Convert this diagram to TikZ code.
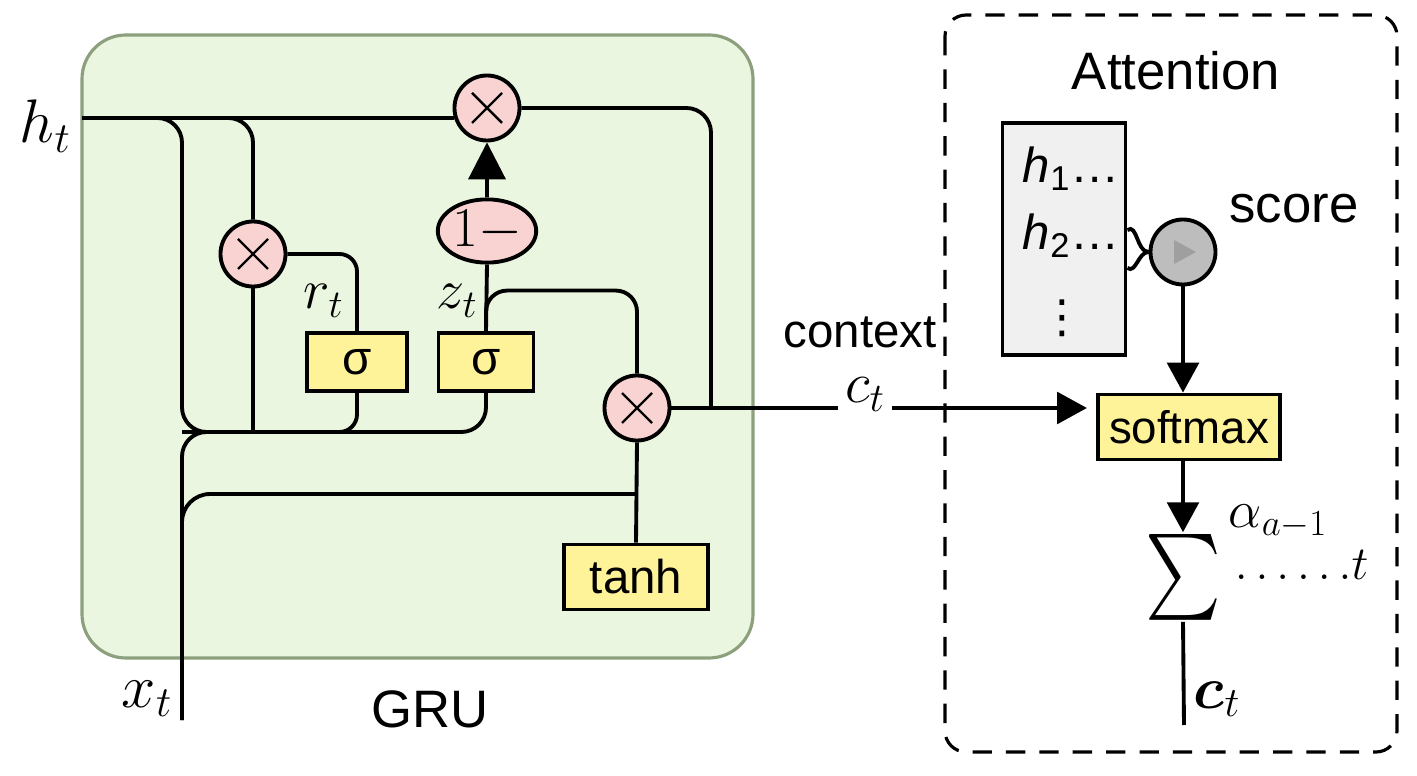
\RequirePackage{fix-cm}
\documentclass[tikz,border=0pt]{standalone}
\usepackage{amsmath,amssymb}
\usepackage{fontspec}
\setmainfont{Liberation Sans}
\newfontfamily\symfont{DejaVu Sans}
\usetikzlibrary{arrows.meta,positioning,calc,shapes}

\definecolor{grufill}{HTML}{EAF6E0}
\definecolor{gruline}{HTML}{8CA07E}
\definecolor{opfill}{HTML}{F9D3D1}
\definecolor{actfill}{HTML}{FFF39A}
\definecolor{memfill}{HTML}{F0F0F0}
\definecolor{scorefill}{HTML}{BDBDBD}

\newcommand{\fsz}[1]{\fontsize{#1}{#1}\selectfont}

\begin{document}
\begin{tikzpicture}[x=0.02cm,y=-0.02cm,line width=2.2pt,
  mult/.style={circle,draw,fill=opfill,minimum size=37pt,inner sep=0pt,
    path picture={\draw[line width=1.4pt]
      ($(path picture bounding box.center)+(-15,-15)$) -- ($(path picture bounding box.center)+(15,15)$)
      ($(path picture bounding box.center)+(-15,15)$) -- ($(path picture bounding box.center)+(15,-15)$);}},
  act/.style={draw,fill=actfill,minimum height=33pt,inner sep=0pt,font=\fsz{27}},
  lbl/.style={inner sep=0pt},
  arrowto/.style={-{Triangle[length=17pt,width=18pt]}},
  arrowbig/.style={-{Triangle[length=21pt,width=21pt]}}]
\useasboundingbox (0,0) rectangle (1417,776);

% GRU cell
\draw[line width=1.8pt,draw=gruline,fill=grufill,rounded corners=25pt] (82,35) rectangle (753,658);
\node[lbl,font=\fsz{30},anchor=base] (grulbl) at (430,727) {GRU};

% Attention block
\draw[line width=1.8pt,dash pattern=on 11pt off 8pt,rounded corners=12pt] (945,15) rectangle (1397,752);
\node[lbl,font=\fsz{30},anchor=base] (attlbl) at (1176,90) {Attention};

% gates
\node[mult] (topmul) at (487,108) {};
\node[mult] (rmul) at (253,254) {};
\node[mult] (lomul) at (637,408) {};
\node[ellipse,draw,fill=opfill,minimum width=56pt,minimum height=36pt,inner sep=0pt,font=\fsz{32}] (onem) at (487,231) {$1-$};
\node[act,minimum width=57pt] (sigr) at (357,362) {σ};
\node[act,minimum width=54pt] (sigz) at (486,362) {σ};
\node[act,minimum width=82pt,minimum height=37pt] (tanh) at (636,577) {tanh};

% inputs and gate labels
\node[lbl,font=\fsz{35},anchor=base west] (hlbl) at (18,143) {$h_t$};
\node[lbl,font=\fsz{35},anchor=base west] (xlbl) at (120,707) {$x_t$};
\node[lbl,font=\fsz{32},anchor=base west] (rlbl) at (302,309) {$r_t$};
\node[lbl,font=\fsz{32},anchor=base west] (zlbl) at (435,309) {$z_t$};
\coordinate (hin) at (82,118);
\coordinate (xin) at (182,720);
\coordinate (bus) at (182,432);
\coordinate (jc) at (711,408);

% GRU wiring
\draw (hin) -- (topmul.197);
\draw[rounded corners=14pt] (hin) -| (bus) -| (sigz.south);
\draw[rounded corners=14pt] (xin) |- (rmul.south |- bus);
\draw[rounded corners=16pt] (xin) |- (tanh.north |- 0,494);
\draw[rounded corners=14pt] (hin) -| (rmul.north);
\draw (rmul.south) -- (rmul.south |- bus);
\draw[rounded corners=10pt] (rmul.east) -| (sigr.north);
\draw[rounded corners=10pt] (sigr.south) |- (bus);
\draw (sigz.north) -- (onem.south);
\draw[arrowbig] (onem.north) -- (topmul.south);
\draw[rounded corners=12pt] (sigz.north) |- ($(lomul.north)+(0,-83)$) -- (lomul.north);
\draw[rounded corners=14pt] (topmul.east) -| (jc);
\draw (tanh.north) -- (lomul.south);

% context vector
\node[lbl,font=\fsz{27},anchor=base] (ctxt) at (860,348) {context};
\node[lbl,inner xsep=3pt,font=\fsz{33},anchor=base west] (ctm) at (838,403) {$c_t$};
\draw (lomul.east) -- (ctm.west |- lomul.east);

% memory and score
\node[draw,fill=memfill,minimum width=70pt,minimum height=132pt,inner sep=0pt] (mem) at (1064,239) {};
\node[lbl,font=\fsz{28},anchor=base west] (hone) at (1021,183) {\textit{h}\textsubscript{1}…};
\node[lbl,font=\fsz{28},anchor=base west] (htwo) at (1021,250) {\textit{h}\textsubscript{2}…};
\node[lbl,font=\symfont\fsz{26}] (hdots) at (1062,318) {⋮};
\node[circle,draw,fill=scorefill,minimum size=37pt,inner sep=0pt,
  path picture={\fill[gray!75] ($(path picture bounding box.center)+(-9,-12)$) -- ($(path picture bounding box.center)+(13,0)$)
    -- ($(path picture bounding box.center)+(-9,12)$) -- cycle;}] (score) at (1183,252) {};
\node[lbl,font=\fsz{30},anchor=base] (scorelbl) at (1294,223) {score};
\draw (mem.east |- 0,230) to[out=35,in=180] (score.west);
\draw (mem.east |- 0,268) to[out=-35,in=180] (score.west);

% softmax and weighted sum
\node[draw,fill=actfill,minimum width=104pt,minimum height=37pt,inner sep=0pt,font=\fsz{26}] (softmax) at (1189,427) {softmax};
\draw[arrowto,shorten >=5pt] (ctm.east |- lomul.east) -- (softmax.west |- lomul.east);
\draw[arrowto] (score.south) -- (score.south |- softmax.north);
\node[lbl] (sum) at (1183,577) {\scalebox{0.93}[1.11]{\fsz{44}$\sum$}};
\draw[arrowto] (softmax.south -| sum.north) -- (sum.north);
\coordinate (cout) at (1184,725);
\draw (sum.south) -- (cout);
\node[lbl,font=\fsz{30},anchor=base west] (alpha) at (1227,528) {$\alpha_{a-1}$};
\node[lbl,font=\fsz{27},anchor=base west] (sumdots) at (1233,580) {$.\,.\,.\,.\,.\,.t$};
\node[lbl,font=\fsz{34},anchor=base west] (clbl) at (1192,708) {$\boldsymbol{c}_t$};
\end{tikzpicture}
\end{document}
